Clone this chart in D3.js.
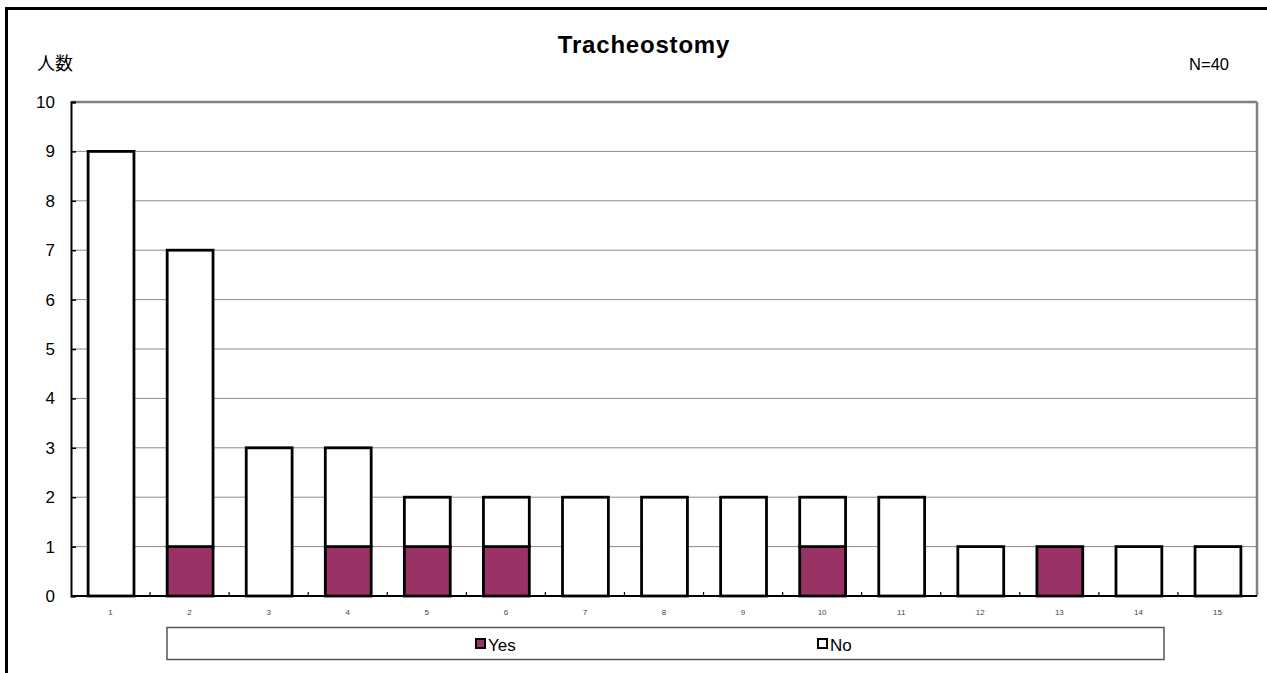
<!DOCTYPE html>
<html><head><meta charset="utf-8">
<script src="https://cdn.jsdelivr.net/npm/d3@7"></script>
<style>
body{margin:0;background:#fff;}
svg{display:block;font-family:"Liberation Sans","Noto Sans CJK JP",sans-serif;}
</style></head>
<body>
<svg id="c" width="1267" height="673"></svg>
<script>
const categories = ["1","2","3","4","5","6","7","8","9","10","11","12","13","14","15"];
const yesValues = [0,1,0,1,1,1,0,0,0,1,0,0,1,0,0];
const noValues  = [9,6,3,2,1,1,2,2,2,1,2,1,0,1,1];
const yTicks = [0,1,2,3,4,5,6,7,8,9,10];
const seriesNames = ["Yes","No"];
const seriesColors = ["#993366","#ffffff"];

const svg = d3.select("#c");
const L = 71, R = 1257, T = 102, B = 596;

// outer frame
svg.append("line").attr("x1",6.5).attr("x2",1267).attr("y1",8.5).attr("y2",8.5).attr("stroke","#000").attr("stroke-width",3);
svg.append("line").attr("x1",6.5).attr("x2",6.5).attr("y1",7).attr("y2",673).attr("stroke","#000").attr("stroke-width",3);

const x = d3.scaleBand().domain(categories).range([L,R]).paddingInner(0.42).paddingOuter(0.21);
const xb = d3.scaleBand().domain(categories).range([L,R]);
const y = d3.scaleLinear().domain([0,10]).range([B,T]);

// gridlines
svg.append("g").selectAll("line").data(yTicks.filter(d=>d>0)).join("line")
  .attr("x1",L).attr("x2",R).attr("y1",d=>y(d)).attr("y2",d=>y(d))
  .attr("stroke","#8c8c8c").attr("stroke-width",1);
// plot border top/right
svg.append("line").attr("x1",L).attr("x2",R).attr("y1",T).attr("y2",T).attr("stroke","#808080").attr("stroke-width",2.5);
svg.append("line").attr("x1",R).attr("x2",R).attr("y1",T).attr("y2",B).attr("stroke","#808080").attr("stroke-width",2.5);

// stacked bars
const stackData = categories.map((c,i)=>({cat:c, Yes:yesValues[i], No:noValues[i]}));
const stack = d3.stack().keys(seriesNames)(stackData);
stack.forEach((layer,li)=>{
  svg.append("g").selectAll("rect").data(layer.filter(d=>d[1]-d[0]>0)).join("rect")
    .attr("x",d=>x(d.data.cat)+0.5).attr("width",x.bandwidth())
    .attr("y",d=>y(d[1])).attr("height",d=>y(d[0])-y(d[1]))
    .attr("fill",seriesColors[li]).attr("stroke","#000").attr("stroke-width",2.8);
});

// y axis
const yAxis = d3.axisLeft(y).tickValues(yTicks).tickSize(-5).tickPadding(16).tickFormat(d3.format("d"));
const gy = svg.append("g").attr("transform",`translate(${L},0)`).call(yAxis);
gy.select(".domain").attr("stroke","#000").attr("stroke-width",2);
gy.selectAll(".tick line").attr("stroke","#000").attr("stroke-width",1.5);
gy.selectAll("text").attr("font-size",17).attr("fill","#000");

// x axis
const gx = svg.append("g").attr("transform",`translate(0,${B})`);
gx.append("line").attr("x1",L).attr("x2",R).attr("y1",0).attr("y2",0).attr("stroke","#000").attr("stroke-width",2);
gx.selectAll("line.t").data(categories.slice(1)).join("line").attr("class","t")
  .attr("x1",d=>xb(d)).attr("x2",d=>xb(d)).attr("y1",0).attr("y2",-4).attr("stroke","#000").attr("stroke-width",1.2);
gx.selectAll("text").data(categories).join("text")
  .attr("x",d=>xb(d)+xb.bandwidth()/2).attr("y",19).attr("text-anchor","middle")
  .attr("font-size",8).attr("fill","#444").text(d=>d);

// titles
svg.append("text").attr("x",644).attr("y",53).attr("text-anchor","middle").attr("font-size",24).attr("font-weight","bold").attr("letter-spacing",0.8).text("Tracheostomy");
svg.append("text").attr("x",37).attr("y",70).attr("font-size",18).attr("font-family","Noto Sans CJK JP").text("人数");
svg.append("text").attr("x",1229).attr("y",70).attr("text-anchor","end").attr("font-size",16.5).text("N=40");

// legend
svg.append("rect").attr("x",167).attr("y",627.5).attr("width",997).attr("height",32).attr("fill","#fff").attr("stroke","#555").attr("stroke-width",1.5);
const legX = [476, 818];
seriesNames.forEach((n,i)=>{
  svg.append("rect").attr("x",legX[i]).attr("y",639).attr("width",9).attr("height",9)
    .attr("fill",seriesColors[i]).attr("stroke","#000").attr("stroke-width",2);
  svg.append("text").attr("x",legX[i]+12).attr("y",651).attr("font-size",17).text(n);
});
</script>
</body></html>
